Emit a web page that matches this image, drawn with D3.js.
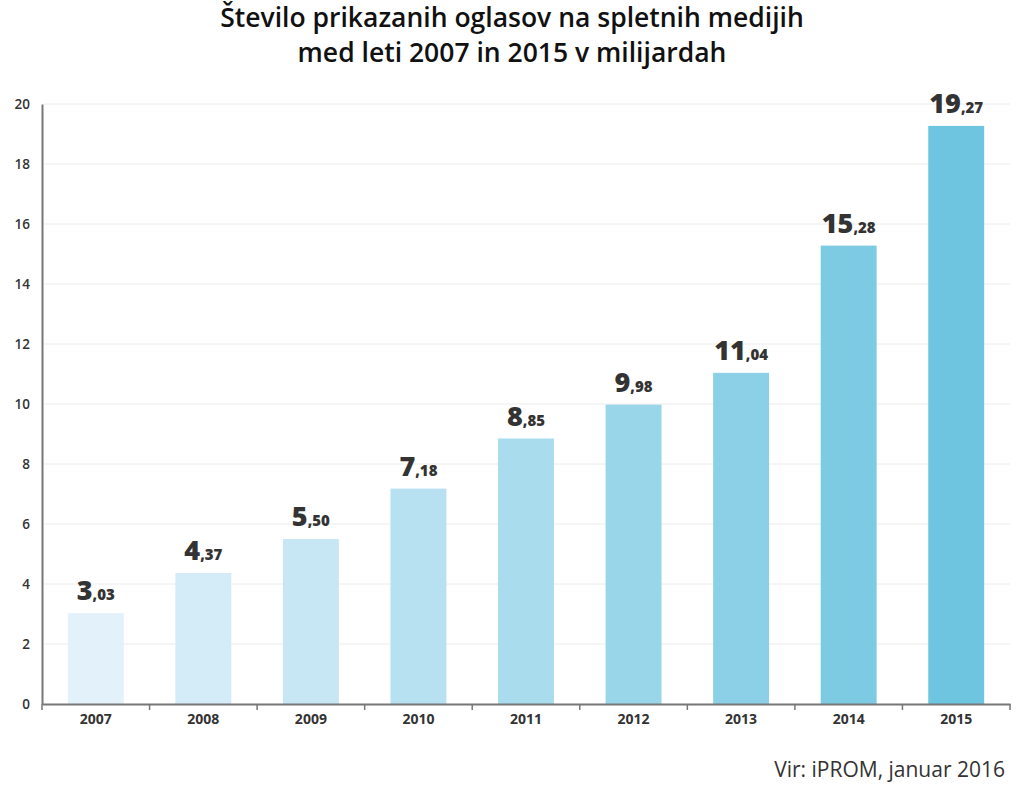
<!DOCTYPE html>
<html>
<head>
<meta charset="utf-8">
<script src="https://cdn.jsdelivr.net/npm/d3@7"></script>
<style>
  body { margin: 0; background: #fff; }
  svg text { font-family: "Open Sans", sans-serif; fill: #333; }
</style>
</head>
<body>
<div class="chart"></div>
<script>
var years = ["2007", "2008", "2009", "2010", "2011", "2012", "2013", "2014", "2015"];
var views = [3.03, 4.37, 5.50, 7.18, 8.85, 9.98, 11.04, 15.28, 19.27];
var yTicks = [0, 2, 4, 6, 8, 10, 12, 14, 16, 18, 20];
var titleLines = ["Število prikazanih oglasov na spletnih medijih", "med leti 2007 in 2015 v milijardah"];
var source = "Vir: iPROM, januar 2016";

var width = 1024, height = 792;

var svg = d3.select(".chart")
    .append("svg")
    .attr("width", width)
    .attr("height", height);

var x = d3.scaleBand()
    .domain(years)
    .range([42, 1010])
    .paddingInner(0.48)
    .paddingOuter(0.24);

var y = d3.scaleLinear().domain([0, 20]).range([704, 104]);

var color = d3.scaleLinear()
    .domain([0, years.length - 1])
    .range(["#e3f2fa", "#6ec5df"])
    .interpolate(d3.interpolateRgb);

// title (one text, two lines)
svg.append("text")
    .attr("class", "title")
    .attr("text-anchor", "middle")
    .style("font-size", "26.5px")
    .style("font-weight", 600)
    .style("fill", "#111")
    .selectAll("tspan")
    .data(titleLines)
    .enter().append("tspan")
    .attr("x", 512)
    .attr("y", function(d, i){ return 27 + i * 35; })
    .text(function(d){ return d; });

// grid
svg.append("g").selectAll("line")
    .data(yTicks.slice(1))
    .enter().append("line")
    .attr("x1", 44).attr("x2", 1010)
    .attr("y1", function(d){ return y(d); })
    .attr("y2", function(d){ return y(d); })
    .attr("stroke", "#ececec")
    .attr("stroke-width", 1);

// bars
svg.append("g").selectAll("rect")
    .data(views)
    .enter().append("rect")
    .attr("x", function(d, i){ return x(years[i]); })
    .attr("y", function(d){ return y(d); })
    .attr("width", x.bandwidth())
    .attr("height", function(d){ return y(0) - y(d); })
    .attr("fill", function(d, i){ return color(i); });

// value labels: big integer part, small decimals
var labels = svg.append("g").selectAll("text")
    .data(views)
    .enter().append("text")
    .attr("x", function(d, i){ return x(years[i]) + x.bandwidth() / 2; })
    .attr("y", function(d){ return y(d) - 13; })
    .attr("text-anchor", "middle")
    .style("font-weight", 800)
    .style("fill", "#333");

labels.append("tspan")
    .style("font-size", "27px")
    .text(function(d){ return d.toFixed(2).split(".")[0]; });
labels.append("tspan")
    .style("font-size", "15px")
    .text(function(d){ return "," + d.toFixed(2).split(".")[1]; });

// y axis
var yAxis = svg.append("g")
    .attr("transform", "translate(42,0)")
    .call(d3.axisLeft(y).tickValues(yTicks).tickSize(0).tickPadding(12));
yAxis.select(".domain").attr("stroke", "#777").attr("stroke-width", 2);
yAxis.selectAll("text")
    .style("font-size", "13.5px")
    .style("font-weight", 600)
    .style("fill", "#333");

// x axis
var xAxis = svg.append("g")
    .attr("transform", "translate(0,704)")
    .call(d3.axisBottom(x).tickSize(0).tickPadding(10));
xAxis.select(".domain").attr("stroke", "#777").attr("stroke-width", 2);
xAxis.selectAll("text")
    .style("font-size", "14px")
    .style("font-weight", 700)
    .style("fill", "#333");

// tick marks between categories
var bounds = years.map(function(d){ return x(d) - x.step() * x.paddingInner() / 2; })
    .concat([x.range()[1]]);
xAxis.selectAll(".sep")
    .data(bounds)
    .enter().append("line")
    .attr("class", "sep")
    .attr("x1", function(d){ return d; })
    .attr("x2", function(d){ return d; })
    .attr("y1", 0).attr("y2", 6)
    .attr("stroke", "#777")
    .attr("stroke-width", 1.5);

// source
svg.append("text")
    .attr("x", 1005)
    .attr("y", 777)
    .attr("text-anchor", "end")
    .style("font-size", "21px")
    .style("fill", "#333")
    .text(source);
</script>
</body>
</html>
